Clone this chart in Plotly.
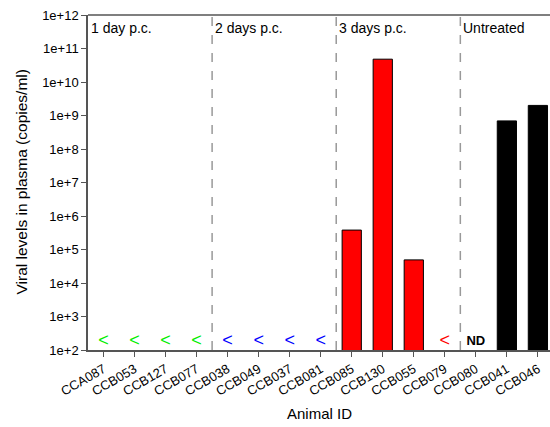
import plotly.graph_objects as go

animals = ["CCA087", "CCB053", "CCB127", "CCB077",
           "CCB038", "CCB049", "CCB037", "CCB081",
           "CCB085", "CCB130", "CCB055", "CCB079",
           "CCB080", "CCB041", "CCB046"]
bar_animals = ["CCB085", "CCB130", "CCB055", "CCB041", "CCB046"]
bar_values = [3.8e5, 4.8e10, 4.9e4, 6.9e8, 2.0e9]
bar_colors = ["#ff0000", "#ff0000", "#ff0000", "#000000", "#000000"]

below_1day = ["CCA087", "CCB053", "CCB127", "CCB077"]
below_2day = ["CCB038", "CCB049", "CCB037", "CCB081"]
below_3day = ["CCB079"]
not_detected = ["CCB080"]
detection_marker_level = 175

groups = ["1 day p.c.", "2 days p.c.", "3 days p.c.", "Untreated"]
group_starts = [-0.5, 3.5, 7.5, 11.5]
dividers = [3.5, 7.5, 11.5]

ytick_exp = list(range(2, 13))

font = "Liberation Sans, Arial, sans-serif"

fig = go.Figure()
fig.add_trace(go.Bar(
    x=bar_animals, y=bar_values, width=0.62,
    marker=dict(color=bar_colors, line=dict(color="#000000", width=1)),
    showlegend=False))

for names, col in [(below_1day, "#00ee00"), (below_2day, "#0000ff"), (below_3day, "#ff0000")]:
    fig.add_trace(go.Scatter(
        x=names, y=[detection_marker_level] * len(names), mode="text",
        text=["<"] * len(names),
        textfont=dict(color=col, size=18, family=font),
        showlegend=False))

fig.add_trace(go.Scatter(
    x=not_detected, y=[detection_marker_level], mode="text", text=["<b>ND</b>"],
    textfont=dict(color="#000000", size=13, family=font), showlegend=False))

for d in dividers:
    fig.add_shape(type="line", xref="x", yref="paper", x0=d, x1=d, y0=0, y1=1,
                  line=dict(color="#999999", width=1.5, dash="dash"))

fig.add_shape(type="line", xref="paper", yref="paper", x0=0, x1=1, y0=1, y1=1,
              line=dict(color="#555555", width=1.5))

for g, s in zip(groups, group_starts):
    fig.add_annotation(x=s, y=0.962, xref="x", yref="paper", text=g, showarrow=False,
                       xanchor="left", yanchor="middle", xshift=1,
                       font=dict(size=14, color="#000000", family=font))

fig.add_annotation(x=0, y=0.5, xref="paper", yref="paper",
                   text="Viral levels in plasma (copies/ml)", textangle=-90,
                   showarrow=False, xanchor="center", yanchor="middle", xshift=-67,
                   font=dict(size=15.5, color="#000000", family=font))
fig.add_annotation(x=0.5, y=0, xref="paper", yref="paper",
                   text="Animal ID", showarrow=False,
                   xanchor="center", yanchor="middle", yshift=-63,
                   font=dict(size=15, color="#000000", family=font))

fig.update_layout(
    width=550, height=427,
    margin=dict(l=88, r=0, t=15, b=77),
    plot_bgcolor="white", paper_bgcolor="white",
    font=dict(family=font, color="#000000", size=13),
)
fig.update_xaxes(
    type="category", categoryorder="array", categoryarray=animals,
    range=[-0.5, 14.39], automargin=False,
    showline=True, linecolor="#555555", linewidth=1.5,
    ticks="outside", ticklen=5, tickcolor="#555555",
    tickangle=-30, tickfont=dict(size=13, family=font),
    showgrid=False, zeroline=False,
)
fig.update_yaxes(
    type="log", range=[2, 12], automargin=False,
    tickvals=[10 ** e for e in ytick_exp],
    ticktext=[f"1e+{e}" for e in ytick_exp],
    showline=True, linecolor="#555555", linewidth=1.5,
    ticks="outside", ticklen=5, tickcolor="#555555",
    tickfont=dict(size=13, family=font),
    showgrid=False, zeroline=False,
)

fig.write_html("out.html", config={"displayModeBar": False},
               post_script="document.body.style.margin='0';document.body.style.overflow='hidden';")
